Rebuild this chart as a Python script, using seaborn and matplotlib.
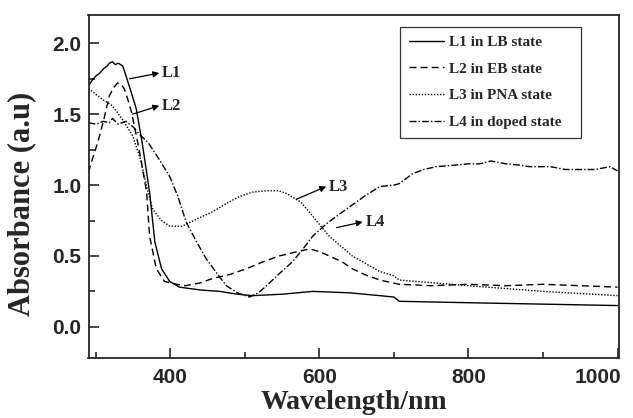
import numpy as np
import pandas as pd
import seaborn as sns
import matplotlib.pyplot as plt
from matplotlib.ticker import MultipleLocator
from matplotlib.transforms import ScaledTranslation

# UV-vis spectra
l1_wl = [290, 295, 300, 305, 310, 315, 318, 322, 326, 330, 336, 341, 347, 354, 362, 372,
         379, 388, 399, 412, 440, 466, 490, 510, 550, 591, 640, 681, 700, 707, 800, 900, 1000]
l1_abs = [1.70, 1.74, 1.77, 1.79, 1.82, 1.84, 1.86, 1.87, 1.85, 1.86, 1.84, 1.76, 1.66, 1.54, 1.30, 0.95,
          0.60, 0.41, 0.32, 0.28, 0.26, 0.25, 0.23, 0.22, 0.23, 0.25, 0.24, 0.22, 0.21, 0.18, 0.17, 0.16, 0.15]

l2_wl = [290, 295, 300, 305, 310, 318, 324, 329, 334, 338, 343, 348, 358, 368, 372, 381, 392, 408,
         420, 440, 456, 480, 502, 525, 546, 570, 587, 600, 613, 630, 644, 660, 681, 707, 750, 800,
         850, 900, 950, 1000]
l2_abs = [1.09, 1.18, 1.26, 1.35, 1.45, 1.63, 1.69, 1.72, 1.71, 1.68, 1.60, 1.51, 1.25, 0.95, 0.64, 0.41,
          0.32, 0.30, 0.29, 0.31, 0.34, 0.37, 0.41, 0.46, 0.50, 0.53, 0.55, 0.53, 0.50, 0.46, 0.41, 0.37,
          0.33, 0.30, 0.29, 0.30, 0.29, 0.30, 0.29, 0.28]

l3_wl = [290, 300, 310, 322, 336, 349, 360, 368, 376, 388, 399, 416, 435, 456, 475, 493, 510, 529,
         545, 556, 575, 591, 613, 644, 681, 700, 707, 800, 900, 1000]
l3_abs = [1.68, 1.64, 1.60, 1.56, 1.46, 1.35, 1.18, 0.99, 0.83, 0.75, 0.71, 0.71, 0.76, 0.81, 0.87, 0.92,
          0.95, 0.96, 0.96, 0.94, 0.88, 0.78, 0.64, 0.50, 0.39, 0.36, 0.33, 0.29, 0.25, 0.22]

l4_wl = [290, 300, 310, 318, 322, 330, 340, 350, 358, 370, 385, 399, 410, 421, 435, 448, 462, 475,
         490, 506, 518, 529, 545, 564, 578, 591, 610, 636, 660, 681, 700, 707, 725, 740, 757, 780,
         800, 815, 830, 850, 870, 882, 910, 930, 949, 970, 990, 1000]
l4_abs = [1.44, 1.43, 1.45, 1.44, 1.47, 1.43, 1.45, 1.41, 1.36, 1.30, 1.18, 1.06, 0.92, 0.74, 0.60, 0.48,
          0.38, 0.29, 0.24, 0.21, 0.24, 0.29, 0.37, 0.46, 0.55, 0.64, 0.73, 0.83, 0.92, 0.99, 1.00, 1.01,
          1.08, 1.11, 1.13, 1.14, 1.15, 1.15, 1.17, 1.15, 1.14, 1.13, 1.13, 1.11, 1.11, 1.11, 1.13, 1.10]

labels = ['L1 in LB state', 'L2 in EB state', 'L3 in PNA state', 'L4 in doped state']
x_ticks = [400, 600, 800, 1000]
y_ticks = [0.0, 0.5, 1.0, 1.5, 2.0]

sns.set_style('ticks')
plt.rcParams['font.family'] = ['Liberation Sans', 'DejaVu Sans']

fig = plt.figure(figsize=(6.33, 4.18), dpi=100)
ax = fig.add_axes([88.5 / 633, 1 - 358 / 418, 530.5 / 633, 343 / 418])

series = [(l1_wl, l1_abs, '-'), (l2_wl, l2_abs, (0, (5, 3))),
          (l3_wl, l3_abs, (0, (1, 1.2))), (l4_wl, l4_abs, (0, (5, 1.5, 1, 1.5)))]
for (wl, ab, ls), lab in zip(series, labels):
    df = pd.DataFrame({'wl': wl, 'abs': ab})
    sns.lineplot(data=df, x='wl', y='abs', ax=ax, color='black', lw=1.0,
                 linestyle=ls, label=lab)

ax.set_xlim(290, 1002)
ax.set_ylim(-0.22, 2.2)
ax.set_xticks(x_ticks)
ax.set_yticks(y_ticks)
ax.xaxis.set_minor_locator(MultipleLocator(100))
ax.yaxis.set_minor_locator(MultipleLocator(0.25))
ax.tick_params(which='both', direction='in', width=1.2, top=False, right=False)
ax.tick_params(which='major', length=7)
ax.tick_params(which='minor', length=4)
ax.tick_params(axis='y', pad=5)
ax.tick_params(axis='x', pad=7)
for t in ax.get_xticklabels() + ax.get_yticklabels():
    t.set_fontweight('bold')
    t.set_fontsize(15)
last = ax.get_xticklabels()[-1]
last.set_transform(last.get_transform() + ScaledTranslation(-14 / 72, 0, fig.dpi_scale_trans))
for s in ax.spines.values():
    s.set_linewidth(1.3)

ax.set_xlabel('Wavelength/nm', family='Liberation Serif', fontweight='bold', fontsize=20)
ax.xaxis.set_label_coords(0.5, -0.094)
ax.set_ylabel('Absorbance (a.u)', family='Liberation Serif', fontweight='bold', fontsize=22)
ax.yaxis.set_label_coords(-0.098, 0.45)

# curve labels with arrows
arrows = [((345, 1.75), (385, 1.79), 'L1'), ((349, 1.50), (385, 1.56), 'L2'),
          ((569, 0.90), (609, 0.99), 'L3'), ((623, 0.70), (658, 0.74), 'L4')]
for start, end, txt in arrows:
    ax.annotate('', xy=end, xytext=start,
                arrowprops=dict(arrowstyle='-|>', color='black', lw=0.9,
                                mutation_scale=9, shrinkA=0, shrinkB=0))
    ax.text(end[0] + 4, end[1], txt, family='Liberation Serif', fontweight='bold',
            fontsize=12, va='center', ha='left')

leg = ax.legend(loc='upper left', bbox_to_anchor=(0.588, 0.615, 0.341, 0.35), mode='expand',
                frameon=True, fancybox=False, edgecolor='black', handlelength=2.3,
                handletextpad=0.3, labelspacing=0.85, borderpad=0.55, borderaxespad=0,
                prop={'family': 'Liberation Serif', 'weight': 'bold', 'size': 11})
leg.get_frame().set_linewidth(0.9)

fig.savefig('out.png', dpi=100)
plt.close(fig)
